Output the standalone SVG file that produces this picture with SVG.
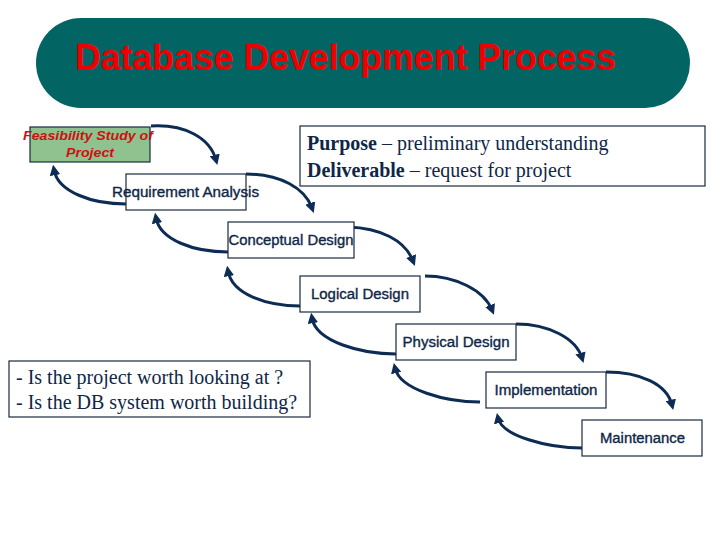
<svg xmlns="http://www.w3.org/2000/svg" width="720" height="540" viewBox="0 0 720 540">
<defs>
<style>
.box{fill:#ffffff;stroke:#1a2a40;stroke-width:1.2}
.lbl{font-family:"Liberation Sans",Arial,sans-serif;font-size:14px;fill:#0f2747;stroke:#0f2747;stroke-width:0.35;text-anchor:middle}
.serif{font-family:"Liberation Serif","Times New Roman",serif;font-size:20px;fill:#0f2747}
.conn{fill:none;stroke:#0d2c54;stroke-width:3}
</style>
<marker id="ah" viewBox="0 0 10 10" refX="5" refY="5" markerWidth="3.5" markerHeight="3.5" orient="auto" markerUnits="strokeWidth">
<path d="M0,0 L10,5 L0,10 z" fill="#0d2c54"/>
</marker>
</defs>
<rect width="720" height="540" fill="#ffffff"/>
<g id="title">
<rect x="36" y="18" width="654" height="90" rx="45" ry="45" fill="#036464"/>
<text x="75" y="70" font-family="'Liberation Sans',Arial,sans-serif" font-size="36" font-weight="bold" fill="#ee0000" textLength="541" lengthAdjust="spacingAndGlyphs">Database Development Process</text>
</g>
<g id="connectors">
<path class="conn" marker-end="url(#ah)" d="M151,126 C185,124 210,138 216,160"/>
<path class="conn" marker-end="url(#ah)" d="M246,174 C280,174 305,188 312,208"/>
<path class="conn" marker-end="url(#ah)" d="M348,227 C380,228 405,240 413,261"/>
<path class="conn" marker-end="url(#ah)" d="M425,276 C455,276 484,290 492,310"/>
<path class="conn" marker-end="url(#ah)" d="M516,324 C548,324 576,338 582,358"/>
<path class="conn" marker-end="url(#ah)" d="M606,372 C640,372 667,384 672,405"/>
<path class="conn" marker-end="url(#ah)" d="M126,204 C92,204 58,192 54,170"/>
<path class="conn" marker-end="url(#ah)" d="M228,252 C194,252 160,240 156,218"/>
<path class="conn" marker-end="url(#ah)" d="M300,306 C266,306 232,294 228,271"/>
<path class="conn" marker-end="url(#ah)" d="M396,354 C362,354 316,342 312,318"/>
<path class="conn" marker-end="url(#ah)" d="M480,402 C446,402 400,390 395,368"/>
<path class="conn" marker-end="url(#ah)" d="M582,448 C548,448 502,436 498,418"/>
</g>
<g id="feasibility">
<rect x="30" y="127" width="120" height="35" fill="#8fc28f" stroke="#1a2a40" stroke-width="1.2"/>
<text x="88" y="140" font-family="'Liberation Sans',Arial,sans-serif" font-size="13" font-weight="bold" font-style="italic" fill="#d01010" text-anchor="middle" textLength="130" lengthAdjust="spacingAndGlyphs">Feasibility Study of</text>
<text x="90" y="157" font-family="'Liberation Sans',Arial,sans-serif" font-size="13" font-weight="bold" font-style="italic" fill="#d01010" text-anchor="middle" textLength="48" lengthAdjust="spacingAndGlyphs">Project</text>
</g>
<g id="requirement">
<rect class="box" x="126" y="174" width="120" height="36"/>
<text class="lbl" x="185.5" y="197" textLength="147" lengthAdjust="spacingAndGlyphs">Requirement Analysis</text>
</g>
<g id="purpose">
<rect class="box" x="300" y="126" width="405" height="60"/>
<text class="serif" x="307" y="150"><tspan font-weight="bold">Purpose</tspan> – preliminary understanding</text>
<text class="serif" x="307" y="177"><tspan font-weight="bold">Deliverable</tspan> – request for project</text>
</g>
<g id="conceptual">
<rect class="box" x="228" y="222" width="126" height="36"/>
<text class="lbl" x="291" y="245" textLength="125" lengthAdjust="spacingAndGlyphs">Conceptual Design</text>
</g>
<g id="logical">
<rect class="box" x="300" y="276" width="120" height="36"/>
<text class="lbl" x="360" y="299" textLength="98" lengthAdjust="spacingAndGlyphs">Logical Design</text>
</g>
<g id="physical">
<rect class="box" x="396" y="324" width="120" height="36"/>
<text class="lbl" x="456" y="347" textLength="107" lengthAdjust="spacingAndGlyphs">Physical Design</text>
</g>
<g id="implementation">
<rect class="box" x="486" y="372" width="120" height="36"/>
<text class="lbl" x="546" y="395" textLength="103" lengthAdjust="spacingAndGlyphs">Implementation</text>
</g>
<g id="maintenance">
<rect class="box" x="582" y="420" width="120" height="36"/>
<text class="lbl" x="642.5" y="443" textLength="85" lengthAdjust="spacingAndGlyphs">Maintenance</text>
</g>
<g id="questions">
<rect class="box" x="9" y="361" width="301" height="56"/>
<text class="serif" x="16" y="384">- Is the project worth looking at ?</text>
<text class="serif" x="16" y="409">- Is the DB system worth building?</text>
</g>
</svg>
